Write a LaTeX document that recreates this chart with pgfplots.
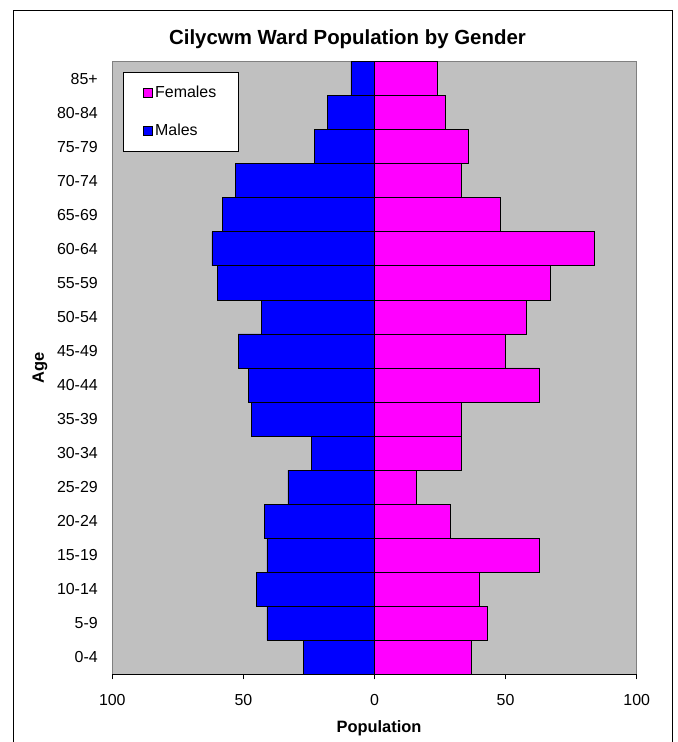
\documentclass[border=0pt]{standalone}
\usepackage{fontspec}
\setmainfont{Liberation Sans}
\usepackage{pgfplots}
\pgfplotsset{compat=1.18}
\usepackage{pgfplotstable}
\definecolor{mblue}{RGB}{0,0,255}
\definecolor{fmag}{RGB}{255,0,255}
\definecolor{bggray}{RGB}{192,192,192}
\definecolor{bordgray}{RGB}{128,128,128}
\pgfplotstableread{
idx age males females
0 0-4 -27 37
1 5-9 -41 43
2 10-14 -45 40
3 15-19 -41 63
4 20-24 -42 29
5 25-29 -33 16
6 30-34 -24 33
7 35-39 -47 33
8 40-44 -48 63
9 45-49 -52 50
10 50-54 -43 58
11 55-59 -60 67
12 60-64 -62 84
13 65-69 -58 48
14 70-74 -53 33
15 75-79 -23 36
16 80-84 -18 27
17 85+ -9 24
}\datatable
\begin{document}
\begin{tikzpicture}
\useasboundingbox (0,0) rectangle (678bp,742bp);
\fill[white] (0,0) rectangle (678bp,742bp);
\draw[black, line width=1bp] (13bp,-1bp) -- (13bp,731bp) -- (672bp,731bp) -- (672bp,-1bp);
\begin{axis}[
  at={(112.3bp,67.7bp)}, anchor=south west,
  scale only axis, width=524.4bp, height=612.6bp,
  xmin=-100, xmax=100, ymin=-0.5, ymax=17.5,
  axis background/.style={fill=bggray, draw=bordgray, line width=0.8bp},
  axis x line*=bottom, axis y line*=left,
  x axis line style={-, black, line width=0.8bp},
  y axis line style={draw=none},
  xtick={-100,-50,0,50,100},
  xticklabels={100,50,0,50,100},
  ytick={0,...,17},
  yticklabels from table={\datatable}{age},
  tick align=outside,
  major tick length=5bp,
  xtick style={black, line width=0.8bp},
  ytick style={draw=none},
  /pgf/number format/assume math mode=true,
  ticklabel style={font=\fontsize{16}{19}\selectfont},
  yticklabel style={xshift=-6bp},
  xticklabel style={yshift=-12bp},
  xlabel={\textbf{Population}},
  ylabel={\textbf{Age}},
  label style={font=\fontsize{16.5}{19}\selectfont},
  xlabel style={at={(axis description cs:0.5086,-0.0877)}, anchor=center},
  ylabel style={at={(axis description cs:-0.1379,0.5)}, anchor=center, rotate=0},
  title={\textbf{Cilycwm Ward Population by Gender}},
  title style={at={(axis description cs:0.4485,1.0273)}, anchor=center, font=\fontsize{20.5}{24}\selectfont},
  legend style={at={(axis description cs:0.0204,0.9832)}, anchor=north west,
    draw=black, fill=white, line width=0.8bp, font=\fontsize{16}{19}\selectfont,
    inner xsep=20bp, inner ysep=12bp, row sep=21bp},
  legend cell align=left,
]
\addplot[xbar, bar width=1, bar shift=0, fill=fmag, draw=black, line width=0.8bp,
  legend image code/.code={\draw[fill=fmag, draw=black, line width=0.8bp] (0bp,-4.5bp) rectangle (9bp,4.5bp);}]
  table[x=females, y=idx] {\datatable};
\addlegendentry{Females}
\addplot[xbar, bar width=1, bar shift=0, fill=mblue, draw=black, line width=0.8bp,
  legend image code/.code={\draw[fill=mblue, draw=black, line width=0.8bp] (0bp,-4.5bp) rectangle (9bp,4.5bp);}]
  table[x=males, y=idx] {\datatable};
\addlegendentry{Males}
\draw[black, line width=1bp] (axis cs:0,-0.5) -- (axis cs:0,17.5);
\end{axis}
\end{tikzpicture}
\end{document}
